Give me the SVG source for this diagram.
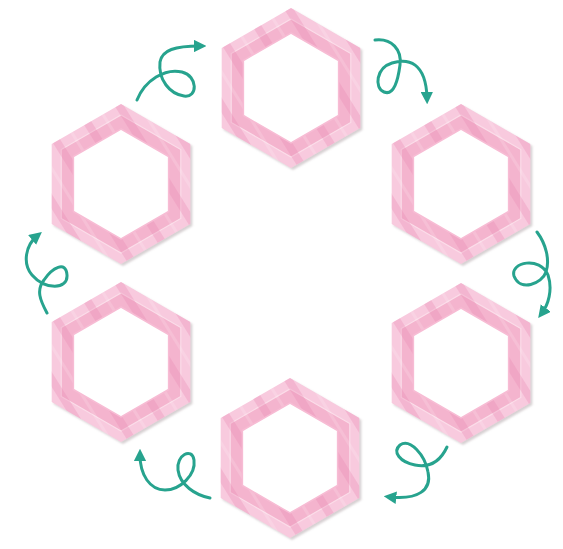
<svg xmlns="http://www.w3.org/2000/svg" width="563" height="549" viewBox="0 0 563 549">
<style>
.outer{fill:#f8cade;}
.mid{fill:#f4b4ce;stroke:#fbdde9;stroke-width:1.2;}
.hole{fill:#ffffff;stroke:#f7bcd4;stroke-width:1.5;}
.stripe{fill:url(#stripes);}
.arrow{fill:none;stroke:#27a38e;stroke-width:3;stroke-linecap:round;marker-end:url(#head);}
</style>
<defs>
<pattern id="stripes" width="36" height="36" patternUnits="userSpaceOnUse" patternTransform="rotate(-32)">
<rect x="0" y="0" width="8" height="36" fill="#e985af" opacity="0.3"/>
<rect x="20" y="0" width="3" height="36" fill="#ffffff" opacity="0.15"/>
</pattern>
<filter id="shadow" x="-20%" y="-20%" width="140%" height="140%">
<feDropShadow dx="2" dy="2" stdDeviation="1.2" flood-color="#9a8a90" flood-opacity="0.4"/>
</filter>
<marker id="head" viewBox="0 0 10 10" refX="5" refY="5" markerWidth="4.2" markerHeight="4.2" orient="auto" markerUnits="strokeWidth">
<path d="M0,0 L10,5 L0,10 Z" fill="#27a38e"/>
</marker>
<g id="hex">
<path class="outer" filter="url(#shadow)" d="M0,-80 L69.3,-40 L69.3,40 L0,80 L-69.3,40 L-69.3,-40 Z"/>
<path class="mid" d="M0,-69 L59.8,-34.5 L59.8,34.5 L0,69 L-59.8,34.5 L-59.8,-34.5 Z"/>
<path class="stripe" fill-rule="evenodd" d="M0,-80 L69.3,-40 L69.3,40 L0,80 L-69.3,40 L-69.3,-40 Z M0,-55 L-47.6,-27.5 L-47.6,27.5 L0,55 L47.6,27.5 L47.6,-27.5 Z"/>
<path class="hole" d="M0,-55 L47.6,-27.5 L47.6,27.5 L0,55 L-47.6,27.5 L-47.6,-27.5 Z"/>
</g>
</defs>
<rect width="563" height="549" fill="#ffffff"/>
<g id="hex-top"><use href="#hex" transform="translate(291,88)"/></g>
<g id="hex-upper-right"><use href="#hex" transform="translate(461,184)"/></g>
<g id="hex-lower-right"><use href="#hex" transform="translate(461,363)"/></g>
<g id="hex-bottom"><use href="#hex" transform="translate(290,458)"/></g>
<g id="hex-lower-left"><use href="#hex" transform="translate(121,362)"/></g>
<g id="hex-upper-left"><use href="#hex" transform="translate(121,184)"/></g>
<g id="connectors">
<path class="arrow" d="M137,100 C145,80 165,68 182,72 C198,76 198,98 184,96 C170,94 158,80 160,62 C162,50 175,46 200,46"/>
<path class="arrow" d="M375,40 C392,38 402,50 400,65 C398,80 394,96 384,92 C374,88 376,68 392,63 C408,58 426,62 427,98"/>
<path class="arrow" d="M537,232 C546,244 550,260 546,272 C542,284 520,292 514,276 C510,262 540,256 548,275 C553,290 548,305 542,313"/>
<path class="arrow" d="M447,447 C440,462 430,468 415,465 C400,462 392,452 400,445 C410,438 425,455 428,472 C432,490 418,500 390,497"/>
<path class="arrow" d="M210,498 C195,495 180,485 178,470 C176,455 192,447 194,460 C196,475 180,490 165,490 C150,490 140,475 140,455"/>
<path class="arrow" d="M47,313 C40,300 36,290 44,280 C52,268 66,260 67,275 C68,290 45,290 32,275 C22,263 26,245 37,236"/>
</g>
</svg>
